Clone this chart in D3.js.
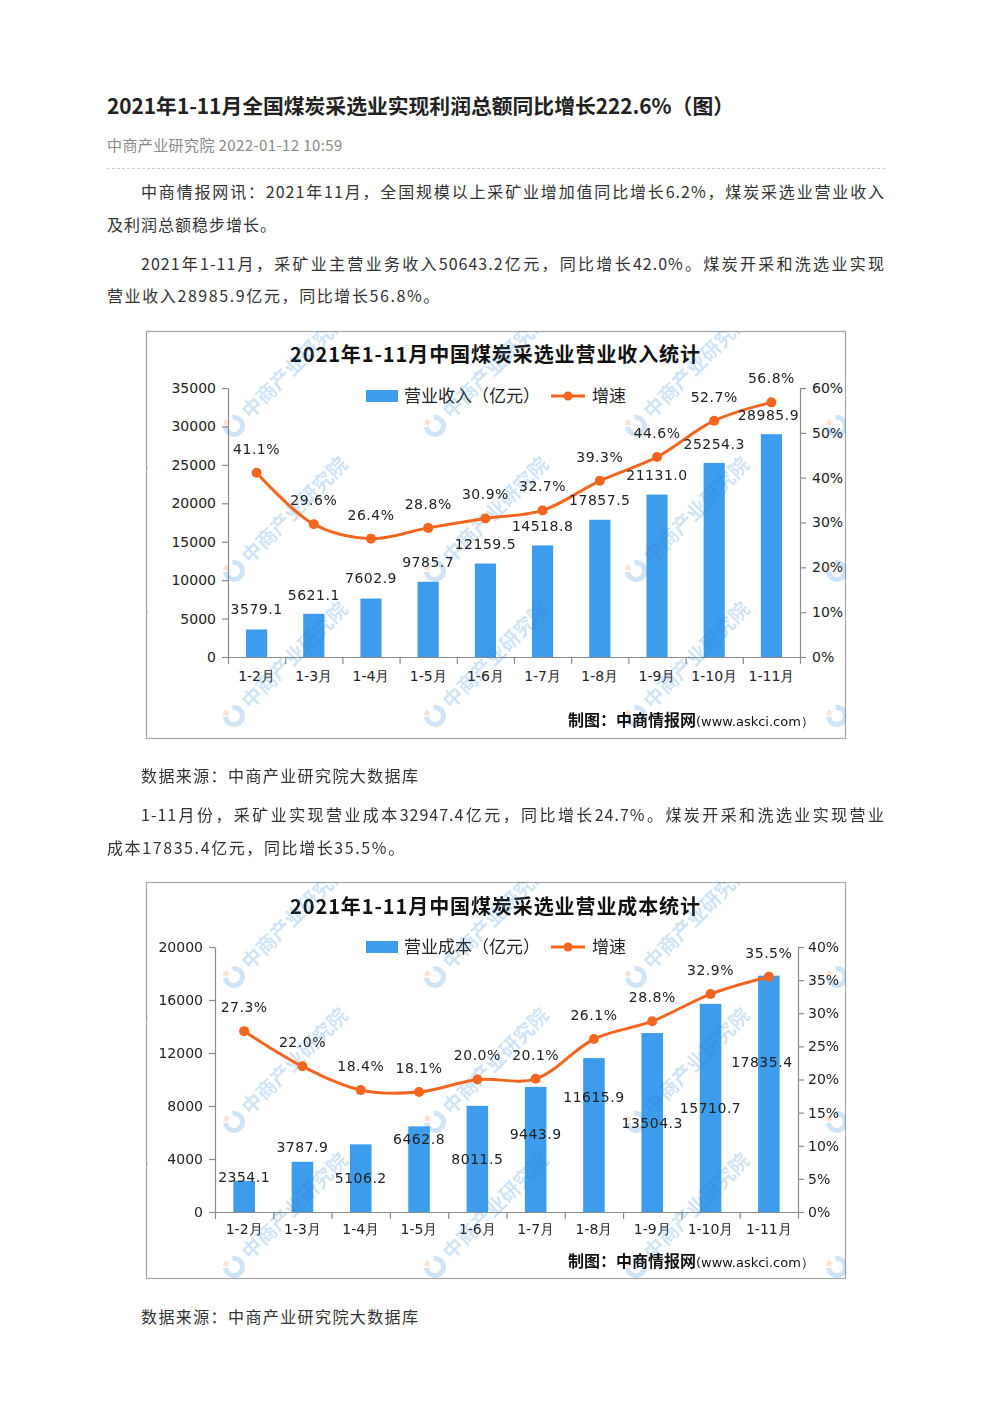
<!DOCTYPE html>
<html><head><meta charset="utf-8">
<script src="https://cdn.jsdelivr.net/npm/d3@7/dist/d3.min.js"></script>
<style>
body{margin:0;background:#fff;}
#page{position:relative;width:992px;height:1403px;overflow:hidden;font-family:"Noto Sans CJK SC","Noto Sans",sans-serif;color:#333;}
.ln{position:absolute;font-size:16px;line-height:24px;letter-spacing:1px;white-space:nowrap;}
.just{white-space:normal;text-align:justify;text-align-last:justify;}
#chartsvg{position:absolute;left:0;top:0;}
</style></head><body><div id="page"><svg id="chartsvg" width="992" height="1403"></svg></div>
<script>
// ---------- data ----------
const months = ["1-2月","1-3月","1-4月","1-5月","1-6月","1-7月","1-8月","1-9月","1-10月","1-11月"];
const revenue = [3579.1, 5621.1, 7602.9, 9785.7, 12159.5, 14518.8, 17857.5, 21131.0, 25254.3, 28985.9];
const revenueGrowth = [41.1, 29.6, 26.4, 28.8, 30.9, 32.7, 39.3, 44.6, 52.7, 56.8];
const cost = [2354.1, 3787.9, 5106.2, 6462.8, 8011.5, 9443.9, 11615.9, 13504.3, 15710.7, 17835.4];
const costGrowth = [27.3, 22.0, 18.4, 18.1, 20.0, 20.1, 26.1, 28.8, 32.9, 35.5];
const revenueTicks = [0, 5000, 10000, 15000, 20000, 25000, 30000, 35000];
const revenueRateTicks = [0, 10, 20, 30, 40, 50, 60];
const costTicks = [0, 4000, 8000, 12000, 16000, 20000];
const costRateTicks = [0, 5, 10, 15, 20, 25, 30, 35, 40];

// ---------- article text ----------
const page = d3.select("#page");
function line(txt, x, yc, opts = {}) {
  const d = page.append("div").attr("class", "ln" + (opts.just ? " just" : "")).text(txt)
    .style("left", x + "px").style("top", (yc - 12) + "px");
  if (opts.width) d.style("width", opts.width + "px");
  if (opts.ls) d.style("letter-spacing", opts.ls + "px");
  return d;
}
page.append("div").text("2021年1-11月全国煤炭采选业实现利润总额同比增长222.6%（图）")
  .style("position", "absolute").style("left", "107px").style("top", "90px")
  .style("font-size", "20.8px").style("line-height", "30px").style("font-weight", "bold").style("color", "#222")
  .style("white-space", "nowrap");
page.append("div").text("中商产业研究院 2022-01-12 10:59")
  .style("position", "absolute").style("left", "107px").style("top", "135px")
  .style("font-size", "15px").style("line-height", "20px").style("color", "#8a8a8a").style("letter-spacing", "0.4px")
  .style("white-space", "nowrap");
page.append("div").style("position", "absolute").style("left", "107px").style("top", "168px")
  .style("width", "778px").style("border-top", "1px dashed #cfcfcf");

line("中商情报网讯：2021年11月，全国规模以上采矿业增加值同比增长6.2%，煤炭采选业营业收入", 141, 191, {just: true, width: 744});
line("及利润总额稳步增长。", 107, 224);
line("2021年1-11月，采矿业主营业务收入50643.2亿元，同比增长42.0%。煤炭开采和洗选业实现", 141, 263, {just: true, width: 744});
line("营业收入28985.9亿元，同比增长56.8%。", 107, 295, {ls: 1.6});
line("数据来源：中商产业研究院大数据库", 141, 775, {ls: 1.4});
line("1-11月份，采矿业实现营业成本32947.4亿元，同比增长24.7%。煤炭开采和洗选业实现营业", 141, 814, {just: true, width: 744});
line("成本17835.4亿元，同比增长35.5%。", 107, 847, {ls: 1.6});
line("数据来源：中商产业研究院大数据库", 141, 1316, {ls: 1.4});

// ---------- charts ----------
const svg = d3.select("#chartsvg");
const BAR = "#3d9cec", LINE = "#f4661f", AXIS = "#8c8c8c";
const numFont = "'DejaVu Sans', sans-serif";

function drawChart(cfg) {
  const [bx0, by0, bx1, by1] = cfg.box;
  const [l, t, r, b] = cfg.plot;
  const g = svg.append("g");
  const clipId = "clip" + by0;
  g.append("clipPath").attr("id", clipId).append("rect")
    .attr("x", bx0).attr("y", by0).attr("width", bx1 - bx0).attr("height", by1 - by0);
  g.append("rect").attr("x", bx0 + 0.5).attr("y", by0 + 0.5).attr("width", bx1 - bx0 - 1).attr("height", by1 - by0 - 1)
    .attr("fill", "#fff").attr("stroke", "#a6a6a6").attr("stroke-width", 1.2);

  const x = d3.scaleBand().domain(cfg.cats).range([l, r]).paddingInner(0.63).paddingOuter(0.315);
  const xEdge = d3.scaleLinear().domain([0, cfg.cats.length]).range([l, r]);
  const y = d3.scaleLinear().domain([0, d3.max(cfg.ticks)]).range([b, t]);
  const yr = d3.scaleLinear().domain([0, d3.max(cfg.rateTicks)]).range([b, t]);

  // title
  g.append("text").attr("x", cfg.titleX).attr("y", cfg.titleY).attr("dy", "0.35em").attr("text-anchor", "middle")
    .attr("font-family", "'Noto Sans CJK SC', sans-serif").attr("font-weight", "bold").attr("font-size", 20)
    .attr("fill", "#111").attr("textLength", 410).attr("lengthAdjust", "spacing").text(cfg.title);

  // legend
  const ly = cfg.legendY;
  g.append("rect").attr("x", 366).attr("y", ly - 6).attr("width", 32).attr("height", 12).attr("fill", BAR);
  g.append("text").attr("x", 404).attr("y", ly).attr("dy", "0.35em").attr("font-size", 17).attr("fill", "#222")
    .text(cfg.legendLabel);
  g.append("line").attr("x1", 551).attr("x2", 585).attr("y1", ly).attr("y2", ly).attr("stroke", LINE).attr("stroke-width", 3);
  g.append("circle").attr("cx", 568).attr("cy", ly).attr("r", 4.5).attr("fill", LINE);
  g.append("text").attr("x", 592).attr("y", ly).attr("dy", "0.35em").attr("font-size", 17).attr("fill", "#222").text("增速");

  // axes
  const styleAxis = sel => {
    sel.select(".domain").attr("stroke", AXIS).attr("stroke-width", 1.2);
    sel.selectAll(".tick line").attr("stroke", AXIS).attr("stroke-width", 1.2);
    sel.selectAll(".tick text").attr("font-family", numFont).attr("font-size", 14).attr("fill", "#222");
  };
  g.append("g").attr("transform", `translate(${l},0)`)
    .call(d3.axisLeft(y).tickValues(cfg.ticks).tickSize(6).tickPadding(6).tickSizeOuter(0).tickFormat(d3.format("d")))
    .call(styleAxis);
  g.append("g").attr("transform", `translate(${r},0)`)
    .call(d3.axisRight(yr).tickValues(cfg.rateTicks).tickSize(6).tickPadding(cfg.rightPad).tickSizeOuter(0).tickFormat(d => d + "%"))
    .call(styleAxis);
  g.append("g").attr("transform", `translate(0,${b})`)
    .call(d3.axisBottom(xEdge).tickValues(d3.range(cfg.cats.length + 1)).tickSize(7).tickSizeOuter(0).tickFormat(""))
    .call(styleAxis);
  g.append("g").attr("transform", `translate(0,${b})`)
    .call(d3.axisBottom(x).tickSize(0).tickPadding(cfg.xLabelPad))
    .call(sel => { sel.select(".domain").remove(); })
    .call(sel => sel.selectAll(".tick text").attr("font-family", numFont).attr("font-size", 14).attr("fill", "#222"));

  // bars
  g.selectAll(".bar").data(cfg.bars).join("rect")
    .attr("x", (d, i) => x(cfg.cats[i])).attr("width", x.bandwidth())
    .attr("y", d => y(d)).attr("height", d => b - y(d)).attr("fill", BAR);

  // watermarks
  const wm = g.append("g").attr("clip-path", `url(#${clipId})`).attr("opacity", 0.22);
  for (let row = 0; row < 3; row++) {
    for (let col = -1; col < 4; col++) {
      const wx = bx0 + 88 + col * 201, wy = by0 + 95 + row * 145;
      const w = wm.append("g").attr("transform", `translate(${wx},${wy}) rotate(-45)`);
      w.append("path").attr("d", d3.arc()({innerRadius: 6, outerRadius: 11, startAngle: 0.6, endAngle: 5.4}))
        .attr("fill", "#2f86d6");
      w.append("path").attr("d", d3.arc()({innerRadius: 6, outerRadius: 11, startAngle: 5.6, endAngle: 6.2}))
        .attr("fill", "#f07a3a");
      w.append("text").attr("x", 16).attr("y", 0).attr("dy", "0.35em").attr("font-size", 20).attr("font-weight", "bold")
        .attr("fill", "#2f86d6").text("中商产业研究院");
    }
  }

  // growth line
  const pts = cfg.rates.map((v, i) => [x(cfg.cats[i]) + x.bandwidth() / 2, yr(v)]);
  g.append("path").attr("d", d3.line().curve(d3.curveCatmullRom.alpha(0.5))(pts))
    .attr("fill", "none").attr("stroke", LINE).attr("stroke-width", 3);
  g.selectAll(".dot").data(pts).join("circle").attr("cx", d => d[0]).attr("cy", d => d[1]).attr("r", 5).attr("fill", LINE);

  // labels
  g.selectAll(".rl").data(cfg.rates).join("text")
    .attr("x", (d, i) => pts[i][0]).attr("y", d => yr(d) - 24).attr("dy", "0.35em").attr("text-anchor", "middle")
    .attr("font-family", numFont).attr("font-size", 14).attr("letter-spacing", 0.5).attr("fill", "#222")
    .text(d => d3.format(".1f")(d) + "%");
  g.selectAll(".bl").data(cfg.bars).join("text")
    .attr("x", (d, i) => x(cfg.cats[i]) + x.bandwidth() / 2 + cfg.barNudge[i][0])
    .attr("y", (d, i) => y(d) + cfg.barNudge[i][1]).attr("dy", "0.35em").attr("text-anchor", "middle")
    .attr("font-family", numFont).attr("font-size", 14).attr("letter-spacing", 0.5).attr("fill", "#222")
    .text(d => d3.format(".1f")(d));

  // footer
  const ft = g.append("text").attr("x", 568).attr("y", cfg.footerY).attr("dy", "0.35em").attr("fill", "#111");
  ft.append("tspan").attr("font-weight", "bold").attr("font-size", 16).text("制图：中商情报网");
  ft.append("tspan").attr("font-family", "'DejaVu Sans', sans-serif").attr("font-size", 13).text("(www.askci.com）");
}

drawChart({
  box: [146, 331, 846, 739], plot: [228, 388, 800, 657],
  cats: months, bars: revenue, rates: revenueGrowth, ticks: revenueTicks, rateTicks: revenueRateTicks,
  title: "2021年1-11月中国煤炭采选业营业收入统计", titleX: 495, titleY: 355,
  legendLabel: "营业收入（亿元）", legendY: 396, footerY: 720, rightPad: 6, xLabelPad: 14,
  barNudge: [[0,-20],[0,-19],[0,-20],[0,-20],[0,-19],[0,-19],[0,-20],[0,-19],[0,-19],[-3,-19]]
});
drawChart({
  box: [146, 882, 846, 1279], plot: [215, 947, 798, 1212],
  cats: months, bars: cost, rates: costGrowth, ticks: costTicks, rateTicks: costRateTicks,
  title: "2021年1-11月中国煤炭采选业营业成本统计", titleX: 495, titleY: 907,
  legendLabel: "营业成本（亿元）", legendY: 947, footerY: 1261, rightPad: 4, xLabelPad: 12,
  barNudge: [[0,-4],[0,-15],[0,34],[0,13],[0,53],[0,47],[0,39],[0,90],[0,104],[-7,86]]
});
</script></body></html>
